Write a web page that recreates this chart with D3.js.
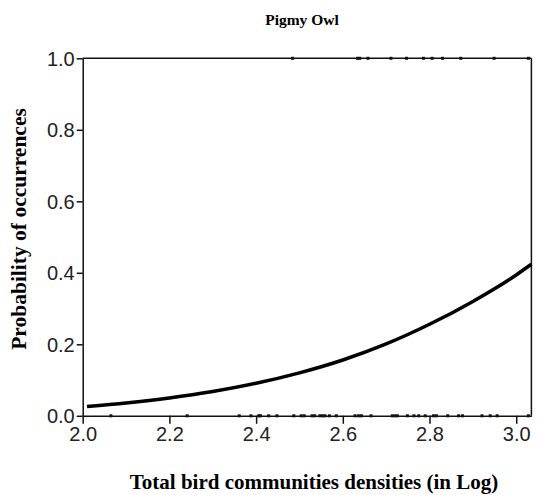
<!doctype html>

<html>

<head>
    <title>Pigmy Owl</title>
    <script src="https://d3js.org/d3.v7.min.js"></script>
    <style>
      body { margin:0; background:white; }
    </style>
</head>
<body>
    <script>
    var width = 539, height = 495;

    var presenceX = [2.484, 2.634, 2.639, 2.658, 2.711, 2.747, 2.786, 2.806, 2.830, 2.872, 2.949, 3.028];

    // sites without the owl (y = 0)
    var absenceX = [2.065, 2.241, 2.361, 2.388, 2.406, 2.410, 2.429, 2.448, 2.487, 2.504,
                    2.511, 2.529, 2.535, 2.547, 2.553, 2.559, 2.569, 2.585, 2.628, 2.636,
                    2.643, 2.665, 2.714, 2.720, 2.726, 2.749, 2.764, 2.775, 2.790, 2.809,
                    2.816, 2.842, 2.867, 2.876, 2.921, 2.940, 2.956, 3.028];

    // fitted probability curve, read at regular steps
    var curveX = [2.01, 2.1, 2.2, 2.3, 2.4, 2.5, 2.6, 2.7, 2.8, 2.9, 3.0, 3.035];
    var curveP = [0.026, 0.036, 0.050, 0.068, 0.091, 0.120, 0.156, 0.201, 0.256, 0.320, 0.394, 0.424];

    var xTicks = [2.0, 2.2, 2.4, 2.6, 2.8, 3.0];
    var yTicks = [0.0, 0.2, 0.4, 0.6, 0.8, 1.0];

    var svg = d3.select("body")
                .append("svg")
                .attr("width", width)
                .attr("height", height)
                .style("background", "white")

    var x = d3.scaleLinear().domain([2.0, 3.035]).range([82.7, 531.4])
    var y = d3.scaleLinear().domain([0, 1]).range([415.8, 58.3])

    // frame: top and right lines
    svg.append("line")
       .attr("x1", x(2.0)).attr("x2", x(3.035))
       .attr("y1", y(1)).attr("y2", y(1))
       .attr("stroke", "#111").attr("stroke-width", 1.5)
    svg.append("line")
       .attr("x1", x(3.035)).attr("x2", x(3.035))
       .attr("y1", y(1)).attr("y2", y(0))
       .attr("stroke", "#111").attr("stroke-width", 1.5)

    var xAxis = svg.append("g")
                   .attr("transform", "translate(0," + y(0) + ")")
                   .call(d3.axisBottom(x).tickValues(xTicks).tickFormat(d3.format(".1f"))
                           .tickSizeInner(8).tickSizeOuter(0).tickPadding(3))
    var yAxis = svg.append("g")
                   .attr("transform", "translate(" + x(2.0) + ",0)")
                   .call(d3.axisLeft(y).tickValues(yTicks).tickFormat(d3.format(".1f"))
                           .tickSizeInner(6).tickSizeOuter(0).tickPadding(2))

    svg.selectAll(".domain, .tick line")
       .attr("stroke", "#111").attr("stroke-width", 1.5)
    svg.selectAll(".tick text")
       .attr("fill", "#222")
       .style("font-family", "'Liberation Sans', Arial, sans-serif")
       .style("font-size", "20px")
    yAxis.selectAll(".tick text").attr("dy", "0.35em")

    // observation marks
    svg.selectAll("rect.pres")
       .data(presenceX)
       .enter()
       .append("rect")
       .attr("class", "pres")
       .attr("x", function(d){ return x(d) - 1.5 })
       .attr("y", y(1) - 1.5)
       .attr("width", 3).attr("height", 3)
       .attr("fill", "#111")

    svg.selectAll("rect.abs")
       .data(absenceX)
       .enter()
       .append("rect")
       .attr("class", "abs")
       .attr("x", function(d){ return x(d) - 1.5 })
       .attr("y", y(0) - 1.5)
       .attr("width", 3).attr("height", 3)
       .attr("fill", "#111")

    var line = d3.line()
                 .x(function(d, i){ return x(curveX[i]) })
                 .y(function(d){ return y(d) })
                 .curve(d3.curveMonotoneX)

    svg.append("path")
       .attr("d", line(curveP))
       .attr("fill", "none")
       .attr("stroke", "#000")
       .attr("stroke-width", 3.5)

    // titles
    svg.append("text")
       .attr("x", 302).attr("y", 25)
       .attr("text-anchor", "middle")
       .style("font-family", "'Liberation Serif', 'Times New Roman', serif")
       .style("font-weight", "bold")
       .style("font-size", "15.5px")
       .text("Pigmy Owl")

    svg.append("text")
       .attr("x", 314).attr("y", 489)
       .attr("text-anchor", "middle")
       .style("font-family", "'Liberation Serif', 'Times New Roman', serif")
       .style("font-weight", "bold")
       .style("font-size", "21px")
       .text("Total bird communities densities (in Log)")

    svg.append("text")
       .attr("transform", "translate(26,229) rotate(-90)")
       .attr("text-anchor", "middle")
       .style("font-family", "'Liberation Serif', 'Times New Roman', serif")
       .style("font-weight", "bold")
       .style("font-size", "21.5px")
       .text("Probability of occurrences")

    </script>
</body>
</html>
